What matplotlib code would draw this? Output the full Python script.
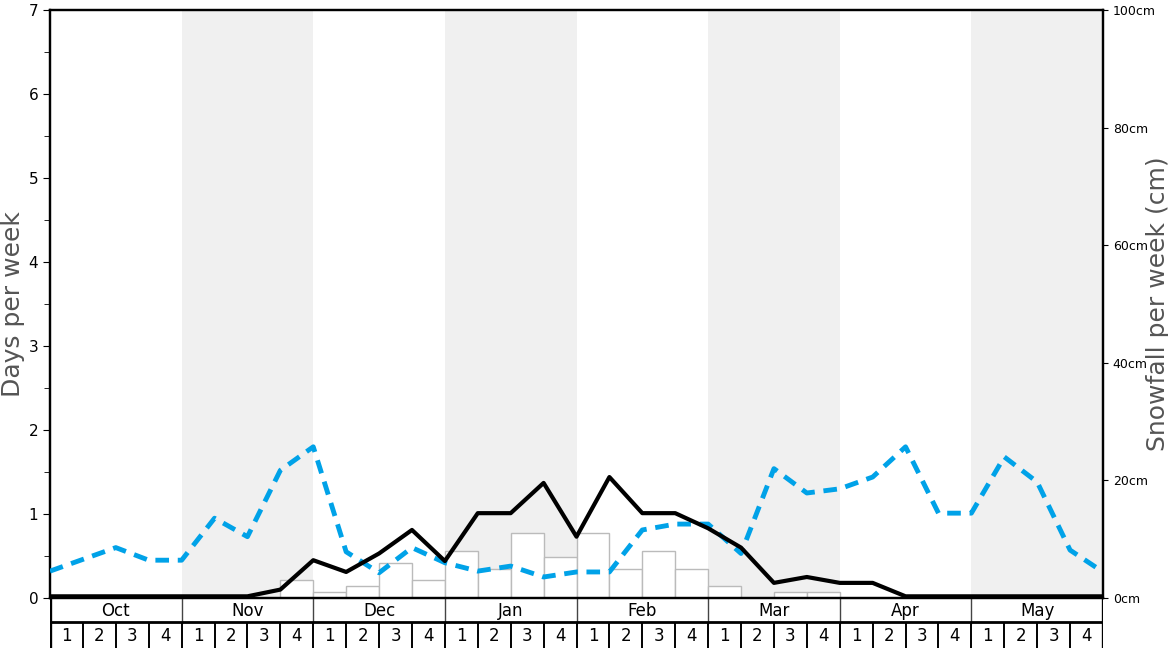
import matplotlib
matplotlib.use('Agg')
import matplotlib.pyplot as plt

months = ['Oct', 'Nov', 'Dec', 'Jan', 'Feb', 'Mar', 'Apr', 'May']
weeks = ['1', '2', '3', '4']

# snowfall per week (cm), one per week
snowfall = [0, 0, 0, 0,
            0, 0, 0, 3,
            1, 2, 6, 3,
            8, 5, 11, 7,
            11, 5, 8, 5,
            2, 0, 1, 1,
            0, 0, 0, 0,
            0, 0, 0, 0]

# days per week, values at week boundaries (33 points)
days_black = [0.02, 0.02, 0.02, 0.02, 0.02, 0.02, 0.02, 0.1, 0.45,
              0.31, 0.53, 0.81, 0.44, 1.01, 1.01, 1.37, 0.73, 1.44,
              1.01, 1.01, 0.83, 0.6, 0.18, 0.25, 0.18, 0.18, 0.02,
              0.02, 0.02, 0.02, 0.02, 0.02, 0.02]
days_blue = [0.32, 0.46, 0.6, 0.45, 0.45, 0.95, 0.73, 1.52, 1.8,
             0.55, 0.3, 0.6, 0.42, 0.32, 0.38, 0.25, 0.31, 0.31,
             0.81, 0.88, 0.88, 0.53, 1.54, 1.25, 1.3, 1.44, 1.8,
             1.01, 1.01, 1.68, 1.38, 0.57, 0.31]

W, H = 1168, 648
fig = plt.figure(figsize=(W / 100, H / 100), dpi=100)
L, R = 50 / W, 1103 / W
ax = fig.add_axes([L, 50 / H, R - L, 588 / H])
ax2 = ax.twinx()
ax.set_zorder(ax2.get_zorder() + 1)
ax.patch.set_visible(False)

nweeks = len(months) * 4
for m in range(len(months)):
    if m % 2 == 1:
        ax2.axvspan(m * 4, m * 4 + 4, color='#f0f0f0', lw=0, zorder=0)

ax2.bar([i + 0.5 for i in range(nweeks)], snowfall, width=1,
        facecolor='white', edgecolor='#bbbbbb', linewidth=1, zorder=2)
ax2.set_ylim(0, 100)
ax2.set_yticks(range(0, 101, 20))
ax2.set_yticklabels(['%dcm' % v for v in range(0, 101, 20)], fontsize=9)
ax2.set_ylabel('Snowfall per week (cm)', fontsize=18, color='#555555')

xs = list(range(nweeks + 1))
ax.plot(xs, days_blue, color='#00a2e8', lw=3.5, linestyle=(0, (2.8, 1.8)),
        zorder=3)
ax.plot(xs, days_black, color='black', lw=3, zorder=4)
ax.set_xlim(0, nweeks)
ax2.set_xlim(0, nweeks)
ax.set_ylim(0, 7)
ax.set_yticks(range(8))
ax.set_yticks([i + 0.5 for i in range(7)], minor=True)
ax.tick_params(axis='y', labelsize=11, length=5)
ax.tick_params(axis='y', which='minor', length=4)
ax.set_xticks([])
ax.set_ylabel('Days per week', fontsize=18, color='#555555')
ax.yaxis.set_label_coords(-0.024, 0.5)
ax2.yaxis.set_label_coords(1.041, 0.5)
for a in (ax, ax2):
    for s in a.spines.values():
        s.set_linewidth(1.6)

# month / week table below
tb = fig.add_axes([L, 0, R - L, 50 / H])
tb.set_xlim(0, nweeks)
tb.set_ylim(0, 50)
tb.axis('off')
for m, name in enumerate(months):
    tb.text(m * 4 + 2, 37.5, name, ha='center', va='center', fontsize=12)
    if m > 0:
        tb.plot([m * 4, m * 4], [25, 50], color='#444444', lw=1)
    for w, wk in enumerate(weeks):
        i = m * 4 + w
        tb.text(i + 0.5, 12, wk, ha='center', va='center', fontsize=12)
        if i > 0:
            tb.plot([i, i], [0, 25], color='black', lw=1.4)
tb.plot([0, nweeks], [26, 26], color='black', lw=2)
tb.plot([0, 0], [0, 50], color='black', lw=2.4)
tb.plot([nweeks, nweeks], [0, 50], color='black', lw=2.4)

fig.savefig('out.png', dpi=100)
